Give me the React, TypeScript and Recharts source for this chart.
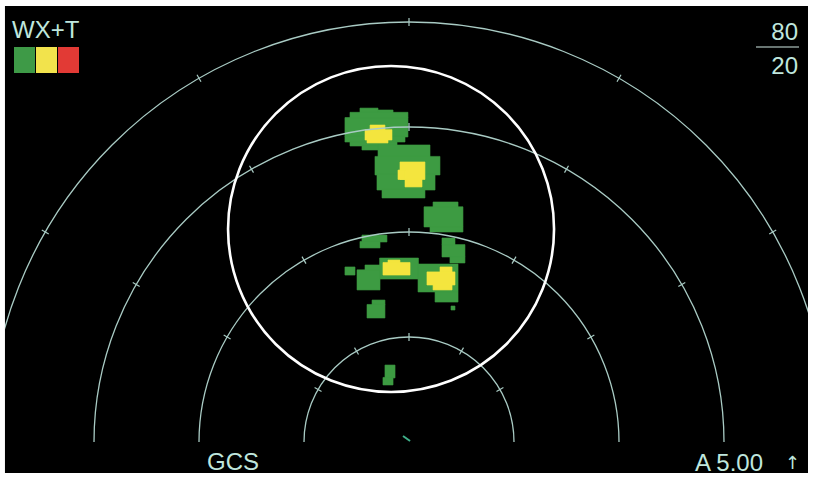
import React from "react";
import { ScatterChart, Scatter, XAxis, YAxis, ReferenceArea, ReferenceDot, ReferenceLine } from "recharts";

const W = 813;
const H = 478;
// picture scale: nautical miles -> pixels, aircraft symbol position in the picture
const PX_PER_NM = 10.5;
const OWN_X = 409;
const OWN_Y = 442;

const X_DOMAIN = [-OWN_X / PX_PER_NM, (W - OWN_X) / PX_PER_NM];
const Y_DOMAIN = [-(H - OWN_Y) / PX_PER_NM, OWN_Y / PX_PER_NM];

// display frame, nm
const FRAME_X = [-38.48, 38.0];
const FRAME_Y = [-2.95, 41.52];

// range rings (nm) and the bearings that carry a tick mark
const RANGE_RINGS = [10, 20, 30, 40];
const TICK_BEARINGS = [-60, -30, 0, 30, 60];

// weather returns, [x0, x1, y0, y1] in nm (east, north of aircraft)
const GREEN_CELLS = [
    // cell A
    [-4.67, -2.95, 31.33, 31.8],
    [-2.95, -1.52, 31.33, 31.62],
    [-5.62, -0.1, 30.86, 31.4],
    [-6.1, -0.1, 29.05, 30.9],
    [-6.1, -0.38, 28.57, 29.1],
    [-5.62, -1.14, 28.19, 28.6],
    [-4.48, -1.14, 27.81, 28.2],
    // cell B
    [-2.95, 2.0, 27.14, 28.29],
    [-3.24, 2.95, 25.43, 27.2],
    [-3.05, 2.48, 24.0, 25.5],
    [-2.57, 1.52, 23.24, 24.05],
    // cell C
    [2.29, 4.67, 22.38, 22.86],
    [1.43, 5.14, 20.48, 22.4],
    [2.0, 5.14, 20.0, 20.5],
    // cell D
    [-4.48, -2.1, 19.05, 19.71],
    [-4.67, -2.76, 18.48, 19.1],
    // cell E
    [3.14, 4.38, 18.76, 19.43],
    [3.14, 5.33, 17.62, 18.8],
    [3.9, 5.33, 17.05, 17.65],
    // band F
    [-6.1, -5.14, 15.9, 16.67],
    [-4.95, -2.76, 14.48, 16.4],
    [-4.19, -2.76, 16.38, 16.86],
    [-2.8, 0.9, 15.52, 17.52],
    [0.86, 4.67, 14.29, 16.95],
    [2.48, 4.67, 13.33, 14.3],
    [4.0, 4.38, 12.57, 12.95],
    // cell G
    [-3.52, -2.29, 13.05, 13.52],
    [-4.0, -2.29, 11.81, 13.1],
    // cell H
    [-2.29, -1.33, 6.1, 7.33],
    [-2.48, -1.52, 5.43, 6.15],
];

const YELLOW_CELLS = [
    [-3.71, -2.29, 29.71, 30.19],
    [-4.19, -1.62, 28.76, 29.75],
    [-4.0, -2.0, 28.48, 28.8],
    [-0.86, 1.52, 25.0, 26.67],
    [-0.38, 1.24, 24.29, 25.05],
    [-1.05, -0.38, 25.0, 25.9],
    [-2.0, -0.86, 17.05, 17.33],
    [-2.48, 0.1, 15.9, 17.1],
    [2.95, 4.1, 16.19, 16.67],
    [1.71, 4.38, 14.95, 16.2],
    [2.29, 4.1, 14.48, 15.0],
];

// marked area (white circle)
const CIRCLE_CENTER = { x: -1.71, y: 20.29 };
const CIRCLE_RADIUS_PX = 163;

const LEGEND_COLORS = ["#3e9a47", "#f2e34c", "#e23a35"];

const GREEN = "#3d9b42";
const YELLOW = "#f4e53e";
const RING = "#a9cbc4";
const TEXT = "#bfe6dd";

const ringData = RANGE_RINGS.map((range) => ({ x: 0, y: 0, range }));

const RingShape = (props: any) => {
    const { cx, cy, payload } = props;
    const r = payload.range * PX_PER_NM;
    const d = `M ${cx - r} ${cy} A ${r} ${r} 0 0 1 ${cx + r} ${cy}`;
    const clipId = "ring-clip-" + payload.range;
    // keep the rings inside the display frame
    const left = cx + FRAME_X[0] * PX_PER_NM;
    const right = cx + FRAME_X[1] * PX_PER_NM;
    const top = cy - FRAME_Y[1] * PX_PER_NM;
    const bottom = cy - FRAME_Y[0] * PX_PER_NM;
    return (
        <g clipPath={`url(#${clipId})`}>
            <defs>
                <clipPath id={clipId}>
                    <rect x={left} y={top} width={right - left} height={bottom - top} />
                </clipPath>
            </defs>
            <path d={d} fill="none" stroke={RING} strokeWidth={1.3} />
            {TICK_BEARINGS.map((b) => {
                const a = (b * Math.PI) / 180;
                const sx = Math.sin(a);
                const sy = -Math.cos(a);
                return (
                    <line
                        key={b}
                        x1={cx + (r - 4) * sx}
                        y1={cy + (r - 4) * sy}
                        x2={cx + (r + 4) * sx}
                        y2={cy + (r + 4) * sy}
                        stroke={RING}
                        strokeWidth={1.2}
                    />
                );
            })}
        </g>
    );
};

const App: React.FC = () => {
    return (
        <div style={{ position: "absolute", left: 0, top: 0, width: W, height: H }}>
            <ScatterChart width={W} height={H} margin={{ top: 0, right: 0, bottom: 0, left: 0 }}>
                <XAxis type="number" dataKey="x" domain={X_DOMAIN} allowDataOverflow hide />
                <YAxis type="number" dataKey="y" domain={Y_DOMAIN} allowDataOverflow hide />
                <ReferenceArea
                    x1={FRAME_X[0]}
                    x2={FRAME_X[1]}
                    y1={FRAME_Y[0]}
                    y2={FRAME_Y[1]}
                    fill="#000"
                    fillOpacity={1}
                />
                {GREEN_CELLS.map((c, i) => (
                    <ReferenceArea
                        key={"g" + i}
                        x1={c[0]}
                        x2={c[1]}
                        y1={c[2]}
                        y2={c[3]}
                        fill={GREEN}
                        fillOpacity={1}
                        stroke={GREEN}
                        strokeWidth={0.6}
                    />
                ))}
                {YELLOW_CELLS.map((c, i) => (
                    <ReferenceArea
                        key={"y" + i}
                        x1={c[0]}
                        x2={c[1]}
                        y1={c[2]}
                        y2={c[3]}
                        fill={YELLOW}
                        fillOpacity={1}
                        stroke={YELLOW}
                        strokeWidth={0.6}
                    />
                ))}
                <Scatter data={ringData} shape={RingShape} isAnimationActive={false} />
                <ReferenceLine
                    segment={[
                        { x: -0.57, y: 0.57 },
                        { x: 0.1, y: 0.1 },
                    ]}
                    stroke="#3fb08a"
                    strokeWidth={2}
                />
                <ReferenceDot
                    x={CIRCLE_CENTER.x}
                    y={CIRCLE_CENTER.y}
                    r={CIRCLE_RADIUS_PX}
                    fill="none"
                    stroke="#ffffff"
                    strokeWidth={2.6}
                />
            </ScatterChart>
            <svg
                width={W}
                height={H}
                style={{ position: "absolute", left: 0, top: 0, pointerEvents: "none" }}
                fontFamily="'Liberation Sans', Arial, sans-serif"
                fill={TEXT}
            >
                <text x={12} y={38} fontSize={24}>WX+T</text>
                {LEGEND_COLORS.map((c, i) => (
                    <rect key={c} x={14 + i * 22} y={47} width={21} height={26} fill={c} />
                ))}
                <text x={798} y={40} fontSize={24} textAnchor="end">80</text>
                <line x1={756} x2={799} y1={47} y2={47} stroke="#8c9c99" strokeWidth={1.5} />
                <text x={798} y={74} fontSize={24} textAnchor="end">20</text>
                <text x={207} y={470} fontSize={24}>GCS</text>
                <text x={695} y={471} fontSize={24}>A 5.00</text>
                <text x={785} y={469} fontSize={18} fontFamily="'DejaVu Sans', sans-serif">↑</text>
            </svg>
        </div>
    );
};

export default App;
